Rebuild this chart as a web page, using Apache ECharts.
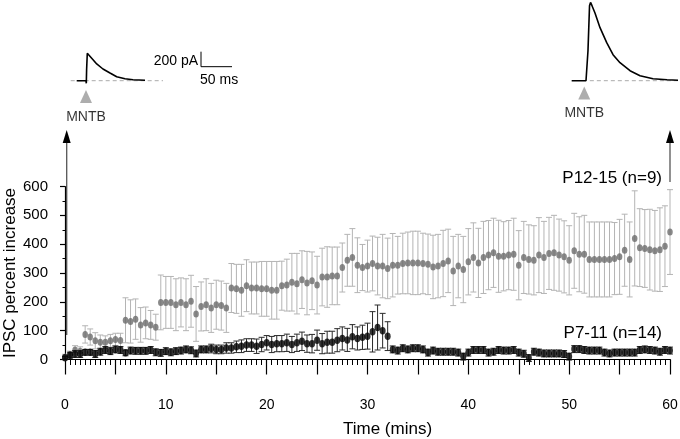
<!DOCTYPE html>
<html><head><meta charset="utf-8">
<script src="https://cdn.jsdelivr.net/npm/echarts@6/dist/echarts.min.js"></script>
<style>html,body{margin:0;padding:0;background:#fff}#c{width:680px;height:439px}</style>
</head><body><div id="c"></div><script>
// Time (mins), sampled every 0.5 min
const times = [0,0.5,1,1.5,2,2.5,3,3.5,4,4.5,5,5.5,6,6.5,7,7.5,8,8.5,9,9.5,
10,10.5,11,11.5,12,12.5,13,13.5,14,14.5,15,15.5,16,16.5,17,17.5,18,18.5,19,19.5,
20,20.5,21,21.5,22,22.5,23,23.5,24,24.5,25,25.5,26,26.5,27,27.5,28,28.5,29,29.5,
30,30.5,31,31.5,32,32.5,33,33.5,34,34.5,35,35.5,36,36.5,37,37.5,38,38.5,39,39.5,
40,40.5,41,41.5,42,42.5,43,43.5,44,44.5,45,45.5,46,46.5,47,47.5,48,48.5,49,49.5,
50,50.5,51,51.5,52,52.5,53,53.5,54,54.5,55,55.5,56,56.5,57,57.5,58,58.5,59,59.5,60];
// P12-15 (n=9)
const p1215Mean = [8,17,33,29,87,78,65,60,60,65, 69,66,136,132,140,120,127,120,112,198,
198,198,190,198,190,202,158,184,190,179, 190,187,179,248,245,240,256,248,248,245,
245,240,240,256,258,268,263,277,265,273, 258,286,286,290,290,319,344,354,327,319,
324,333,324,324,316,327,327,333,335,335, 335,333,330,321,324,333,342,307,324,312,
339,354,335,354,362,370,358,358,362,365, 327,354,347,344,362,354,368,370,362,356,
344,377,365,365,347,347,347,347,347,350, 356,379,347,420,388,385,381,377,381,393,442];
const p1215Err = [10,12,15,15,30,28,28,25,22,22, 22,25,78,75,70,60,55,50,45,95,
90,90,90,85,90,90,95,85,90,85, 85,85,85,85,85,90,90,90,90,95,
95,100,100,85,90,100,105,100,110,100, 100,100,105,100,100,85,90,100,95,80,
90,95,100,110,105,110,100,105,107,110, 110,105,105,110,110,115,110,120,110,115,
115,120,120,125,120,120,125,120,120,125, 120,125,120,120,130,125,125,130,125,125,
120,130,130,135,130,130,130,130,130,125, 130,125,130,165,135,135,140,140,145,140,147];
// P7-11 (n=14)
const p711Mean = [6,15,19,19,25,25,19,27,33,29, 35,33,23,31,30,30,30,33,25,23,
29,25,29,31,35,32,21,35,35,38, 35,35,40,40,44,46,50,50,46,52,
58,52,55,55,58,52,58,63,55,55, 67,55,60,60,67,73,68,79,73,77,
81,96,111,100,81,35,31,39,35,39, 39,35,24,31,27,27,27,27,24,10,
24,33,33,33,24,27,33,31,31,33, 24,20,5,27,24,21,21,21,21,19,
10,36,36,33,31,31,31,24,21,24, 24,24,24,24,33,35,33,31,27,33,31];
const p711Err = [5,10,12,12,10,10,12,12,12,12, 12,12,10,12,12,12,12,12,12,12,
12,12,12,12,12,12,12,12,12,15, 15,15,18,18,20,22,22,22,25,25,
25,28,28,28,30,28,30,32,30,32, 35,35,38,38,40,40,40,42,40,42,
45,70,78,60,50,12,12,12,12,12, 12,12,12,12,12,12,12,12,12,12,
12,12,12,12,12,12,12,12,12,12, 12,12,12,12,12,12,12,12,12,12,
12,12,12,12,12,12,12,12,12,12, 12,12,12,12,12,12,12,12,12,12,12];
const xTickLabels = ['0','10','20','30','40','50','60'];
const yTickLabels = ['0','100','200','300','400','500','600'];
// Inset current traces: [ms, pA]
const traceStart = [[10.8,0],[25.8,0],[26.3,-35],[26.8,150],[27.9,365],[29.8,345],[35.0,299],[43.1,223],
[53.2,156],[64.5,103],[75.3,53],[88.7,27],[101.6,13],[121.0,5]];
const traceEnd = [[2.7,0],[25.8,0],[27,10],[29,400],[31.5,1000],[33.1,1044],[35.5,1000],[40.3,903],
[48.4,707],[59.2,507],[69.4,347],[80.6,240],[96.8,133],[112.9,67],[133.9,27],[156.5,13],[174.2,5]];
const baseStart = [[1.1,0],[150,0]];
const baseEnd = [[32,0],[174.2,0]];
const stimStart = [[25.8,-211]];
const stimEnd = [[23,-164]];
const scaleBar = [[211.3,387],[211.3,187],[261.3,187]];

const FF = 'Liberation Sans, Arial, sans-serif';
const chart = echarts.init(document.getElementById('c'));

function errBars(means, errs, color, cap, z) {
  return {
    type: 'custom', xAxisIndex: 0, yAxisIndex: 0, silent: true, clip: false, z: z,
    data: times.map((t, i) => [t, means[i] - errs[i], means[i] + errs[i]]),
    renderItem: function (params, api) {
      const x = api.value(0);
      const lo = api.coord([x, api.value(1)]);
      const hi = api.coord([x, api.value(2)]);
      const style = { stroke: color, lineWidth: 1 };
      return { type: 'group', children: [
        { type: 'line', shape: { x1: lo[0], y1: lo[1], x2: hi[0], y2: hi[1] }, style: style },
        { type: 'line', shape: { x1: hi[0] - cap, y1: hi[1], x2: hi[0] + cap, y2: hi[1] }, style: style },
        { type: 'line', shape: { x1: lo[0] - cap, y1: lo[1], x2: lo[0] + cap, y2: lo[1] }, style: style }
      ]};
    }
  };
}
const insetAxisX = (gi, max) => ({ type: 'value', gridIndex: gi, min: 0, max: max, show: false });
const insetAxisY = (gi) => ({ type: 'value', gridIndex: gi, min: -300, max: 1076, show: false });
const gridBase = { containLabel: false, outerBoundsMode: 'none' };

chart.setOption({
  animation: false,
  backgroundColor: '#fff',
  grid: [
    Object.assign({ left: 65, right: 10, top: 186.5, bottom: 79.5 }, gridBase),
    Object.assign({ left: 70, top: 0, width: 170, height: 103.2 }, gridBase),
    Object.assign({ left: 570, top: 0, width: 110, height: 103.2 }, gridBase)
  ],
  xAxis: [
    { type: 'value', gridIndex: 0, min: 0, max: 60, interval: 5, offset: 17,
      name: 'Time (mins)', nameLocation: 'middle', nameGap: 44, nameMoveOverlap: false,
      nameTextStyle: { fontSize: 17, color: '#000', fontFamily: FF, padding: [0, 0, 0, 40] },
      axisLine: { show: true, lineStyle: { color: '#000', width: 1.2 } },
      axisTick: { show: true, length: 15, lineStyle: { color: '#000', width: 1.2 } },
      axisLabel: { margin: 22, fontSize: 14, color: '#000', fontFamily: FF,
        formatter: v => (xTickLabels.indexOf(String(v)) >= 0 ? String(v) : '') },
      splitLine: { show: false } },
    insetAxisX(1, 274.2),
    insetAxisX(2, 177.4),
    // minor ticks every 0.5 min
    { type: 'value', gridIndex: 0, min: 0, max: 60, interval: 0.5, offset: 17, position: 'bottom',
      axisLine: { show: false }, axisLabel: { show: false }, splitLine: { show: false },
      axisTick: { show: true, length: 5.5, lineStyle: { color: '#000', width: 1 } } }
  ],
  yAxis: [
    { type: 'value', gridIndex: 0, min: 0, max: 600, interval: 100, offset: 8,
      name: 'IPSC percent increase', nameLocation: 'middle', nameGap: 38, nameMoveOverlap: false,
      nameTextStyle: { fontSize: 17, color: '#000', fontFamily: FF },
      axisLine: { show: true, lineStyle: { color: '#000', width: 1.2 } },
      axisTick: { show: true, length: 5, lineStyle: { color: '#000', width: 1.2 } },
      axisLabel: { margin: 9, fontSize: 15, color: '#000', fontFamily: FF,
        formatter: v => (yTickLabels.indexOf(String(v)) >= 0 ? String(v) : '') },
      splitLine: { show: false } },
    insetAxisY(1),
    insetAxisY(2),
    // minor ticks every 50
    { type: 'value', gridIndex: 0, min: 0, max: 600, interval: 50, offset: 8, position: 'left',
      axisLine: { show: false }, axisLabel: { show: false }, splitLine: { show: false },
      axisTick: { show: true, length: 2.5, lineStyle: { color: '#000', width: 1 } } }
  ],
  series: [
    errBars(p1215Mean, p1215Err, '#b4b4b4', 3, 2),
    { type: 'scatter', xAxisIndex: 0, yAxisIndex: 0, z: 3, symbol: 'circle', symbolSize: [5.5, 7],
      itemStyle: { color: '#6c6c6c' }, data: times.map((t, i) => [t, p1215Mean[i]]) },
    errBars(p711Mean, p711Err, '#2a2a2a', 3, 4),
    { type: 'scatter', xAxisIndex: 0, yAxisIndex: 0, z: 5, symbol: 'circle', symbolSize: [6, 7.5],
      itemStyle: { color: '#000' }, data: times.map((t, i) => [t, p711Mean[i]]) },
    // insets
    { type: 'line', xAxisIndex: 1, yAxisIndex: 1, data: baseStart, symbol: 'none', clip: false,
      lineStyle: { color: '#aaa', width: 1, type: [4, 3] } },
    { type: 'line', xAxisIndex: 1, yAxisIndex: 1, data: traceStart, symbol: 'none', clip: false, z: 3,
      lineStyle: { color: '#000', width: 1.6 } },
    { type: 'line', xAxisIndex: 1, yAxisIndex: 1, data: scaleBar, symbol: 'none', clip: false,
      lineStyle: { color: '#000', width: 1 } },
    { type: 'scatter', xAxisIndex: 1, yAxisIndex: 1, data: stimStart, symbol: 'triangle', symbolSize: [12, 13],
      itemStyle: { color: '#999' },
      label: { show: true, position: 'bottom', distance: 7, formatter: 'MNTB', fontSize: 14, color: '#000', fontFamily: FF } },
    { type: 'line', xAxisIndex: 2, yAxisIndex: 2, data: baseEnd, symbol: 'none', clip: false,
      lineStyle: { color: '#aaa', width: 1, type: [4, 3] } },
    { type: 'line', xAxisIndex: 2, yAxisIndex: 2, data: traceEnd, symbol: 'none', clip: false, z: 3,
      lineStyle: { color: '#000', width: 1.6 } },
    { type: 'scatter', xAxisIndex: 2, yAxisIndex: 2, data: stimEnd, symbol: 'triangle', symbolSize: [12, 13],
      itemStyle: { color: '#999' },
      label: { show: true, position: 'bottom', distance: 7, formatter: 'MNTB', fontSize: 14, color: '#000', fontFamily: FF } }
  ]
});

// annotations positioned from the library's own scales
const x0 = chart.convertToPixel({ gridIndex: 0 }, [0, 0]);
const x60 = chart.convertToPixel({ gridIndex: 0 }, [60, 0]);
const sbTop = chart.convertToPixel({ gridIndex: 1 }, scaleBar[0]);
const sbCorner = chart.convertToPixel({ gridIndex: 1 }, scaleBar[1]);
const lx = x0[0] + 1.7, rx = x60[0];
function arrow(x, yBottom) {
  return [
    { type: 'line', shape: { x1: x, y1: yBottom, x2: x, y2: 142 }, style: { stroke: '#555', lineWidth: 1.3 } },
    { type: 'polygon', shape: { points: [[x - 4, 143], [x + 4, 143], [x, 130]] }, style: { fill: '#000' } }
  ];
}
chart.setOption({
  graphic: [].concat(
    arrow(lx, 335),
    arrow(rx, 182),
    [
      { type: 'text', style: { text: 'P12-15 (n=9)', x: 662, y: 178, align: 'right', verticalAlign: 'middle',
        fontSize: 17, fontFamily: FF, fill: '#000' } },
      { type: 'text', style: { text: 'P7-11 (n=14)', x: 662, y: 333, align: 'right', verticalAlign: 'middle',
        fontSize: 17, fontFamily: FF, fill: '#000' } },
      { type: 'text', style: { text: '200 pA', x: sbTop[0] - 3, y: (sbTop[1] + sbCorner[1]) / 2 + 2, align: 'right',
        verticalAlign: 'middle', fontSize: 14, fontFamily: FF, fill: '#000' } },
      { type: 'text', style: { text: '50 ms', x: sbCorner[0] - 1, y: sbCorner[1] + 13, align: 'left',
        verticalAlign: 'middle', fontSize: 14, fontFamily: FF, fill: '#000' } }
    ])
});
</script></body></html>
